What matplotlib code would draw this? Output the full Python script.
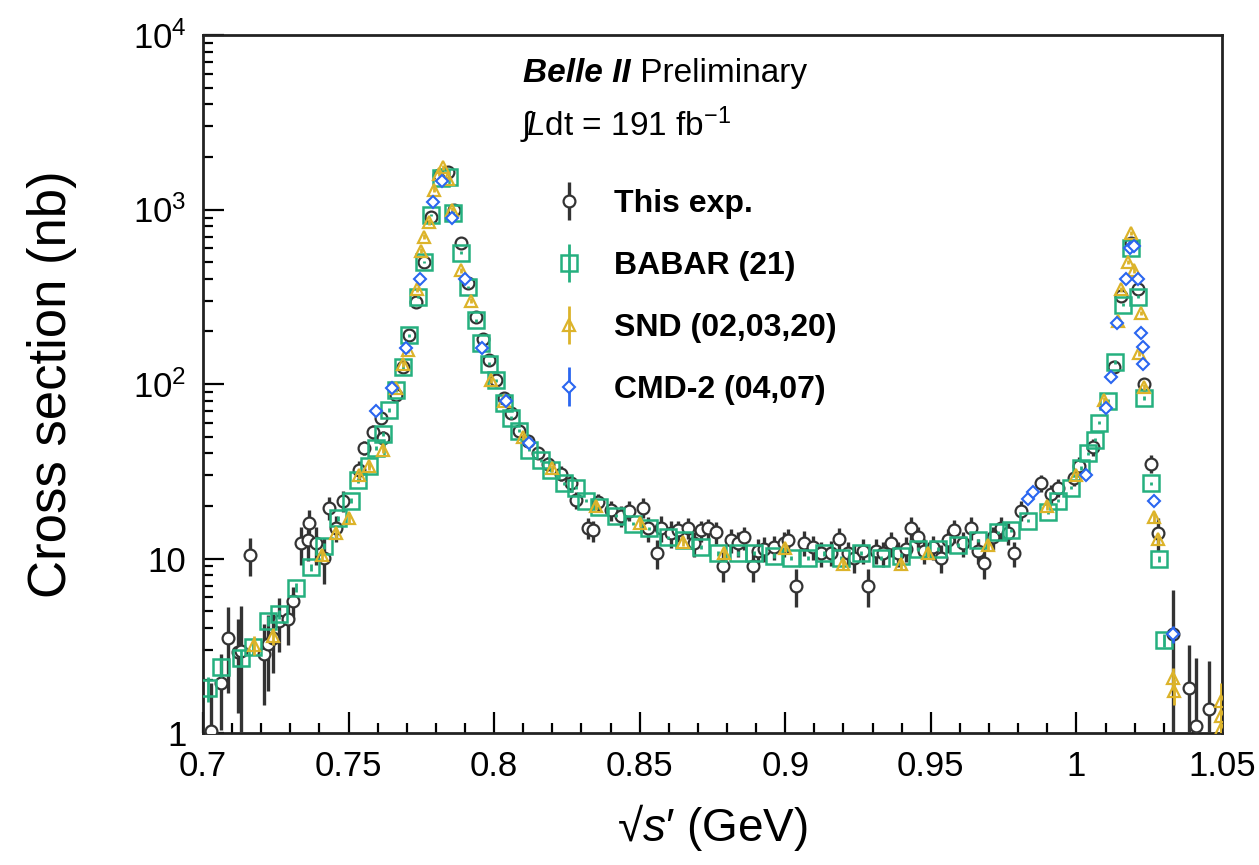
import matplotlib
matplotlib.use("Agg")
import matplotlib.pyplot as plt
from matplotlib.ticker import MultipleLocator, FixedLocator, FuncFormatter, LogLocator, NullFormatter
from matplotlib.legend_handler import HandlerErrorbar
from matplotlib.container import ErrorbarContainer

plt.rcParams["font.family"] = ["Liberation Sans", "DejaVu Sans"]
plt.rcParams["mathtext.fontset"] = "custom"
plt.rcParams["mathtext.rm"] = "Liberation Sans"
plt.rcParams["mathtext.it"] = "Liberation Sans:italic"
plt.rcParams["mathtext.bf"] = "Liberation Sans:bold"

BLACK = "#333333"
GREEN = "#25b07f"
YELLOW = "#dcb32a"
BLUE = "#2a66f0"

# This experiment
this_x = [0.7027, 0.7062, 0.7086, 0.7120, 0.7131, 0.7161, 0.7210, 0.7223, 0.7240, 0.7261,
          0.7292, 0.7309, 0.7337, 0.7361, 0.7365, 0.7388, 0.7416, 0.7433, 0.7457, 0.7481,
          0.7536, 0.7553, 0.7584, 0.7611, 0.7620, 0.7663, 0.7687, 0.7708, 0.7732, 0.7759,
          0.7783, 0.7810, 0.7841, 0.7862, 0.7886, 0.7910, 0.7938, 0.7962, 0.7982, 0.8006,
          0.8034, 0.8058, 0.8085, 0.8116, 0.8150, 0.8185, 0.8230, 0.8264, 0.8280, 0.8322,
          0.8340, 0.8357, 0.8401, 0.8436, 0.8463, 0.8510, 0.8530, 0.8560, 0.8573, 0.8607,
          0.8631, 0.8666, 0.8687, 0.8711, 0.8735, 0.8762, 0.8786, 0.8814, 0.8838, 0.8859,
          0.8890, 0.8907, 0.8927, 0.8961, 0.8996, 0.9009, 0.9037, 0.9065, 0.9096, 0.9123,
          0.9157, 0.9185, 0.9216, 0.9236, 0.9267, 0.9284, 0.9312, 0.9336, 0.9363, 0.9387,
          0.9415, 0.9432, 0.9456, 0.9477, 0.9507, 0.9535, 0.9559, 0.9580, 0.9610, 0.9638,
          0.9662, 0.9683, 0.9713, 0.9741, 0.9765, 0.9786, 0.9810, 0.9878, 0.9913, 0.9937,
          0.9992, 1.0009, 1.0057, 1.0129, 1.0153, 1.0187, 1.0211, 1.0232, 1.0256, 1.0280,
          1.0332, 1.0387, 1.0411, 1.0455]
this_y = [1.03, 1.94, 3.5, 2.9, 2.96, 10.5, 2.84, 3.25, 3.5, 4.4,
          4.5, 5.7, 12.2, 12.7, 16, 12.2, 10.1, 19.6, 15, 21.5,
          32, 43, 53, 64, 49, 86, 125, 190, 295, 500,
          910, 1580, 1630, 1000, 645, 380, 243, 180, 137, 105,
          83, 68, 54, 47, 40, 35, 30.7, 27, 21.6, 15,
          14.5, 21, 19, 17.6, 18.8, 19.6, 14.9, 10.7, 15, 14,
          14.5, 15, 12.2, 14.5, 14.9, 14.1, 9.1, 12.7, 12.2, 13.2,
          9.1, 11.1, 11.4, 11.6, 12.2, 12.7, 7.0, 12.3, 11.6, 10.7,
          10.8, 13, 10.7, 10.1, 11.1, 7.0, 11.1, 10.7, 12.2, 10.7,
          11.4, 15, 13.2, 11.1, 11.6, 10.1, 12.7, 14.5, 12.2, 15,
          11.1, 9.4, 13.2, 15, 14, 10.7, 18.8, 27, 23.5, 25.5,
          29, 34, 43.5, 125, 320, 640, 350, 100, 35, 14,
          3.7, 1.8, 1.1, 1.37]
this_err = [0.9, 0.9, 1.8, 1.6, 2.4, 2.6, 1.4, 1.5, 1.3, 1.5,
            1.3, 1.2, 3.0, 3.0, 3.0, 3.0, 3.0, 3.0, 2.5, 3.0,
            4, 4, 5, 5, 5, 6, 8, 10, 15, 20,
            30, 50, 50, 40, 25, 15, 10, 8, 6, 5,
            4, 4, 3, 3, 3, 3, 3, 3, 2.5, 2.0,
            2.0, 2.5, 2.5, 2.5, 2.5, 2.5, 2.5, 2.0, 2.5, 2.5,
            2.0, 2.0, 2.0, 2.0, 2.0, 2.0, 1.8, 2.0, 2.0, 2.0,
            1.8, 1.8, 1.8, 1.8, 2.0, 2.0, 1.7, 2.0, 1.8, 1.8,
            1.8, 2.0, 1.8, 1.8, 1.8, 1.7, 1.8, 1.8, 2.0, 1.8,
            1.8, 2.2, 2.0, 1.8, 1.8, 1.8, 2.0, 2.2, 2.0, 2.2,
            1.8, 1.8, 2.0, 2.2, 2.0, 1.8, 2.5, 3, 3, 3,
            3, 4, 5, 10, 20, 40, 25, 8, 4, 3,
            2.9, 1.4, 1.6, 1.2]

# BABAR (21)
babar_x = [0.7017, 0.7062, 0.7131, 0.7172, 0.7223, 0.7261, 0.7319, 0.7371, 0.7416, 0.7464,
           0.7508, 0.7532, 0.7570, 0.7594, 0.7618, 0.7639, 0.7663, 0.7687, 0.7708, 0.7738,
           0.7759, 0.7783, 0.7817, 0.7845, 0.7859, 0.7886, 0.7910, 0.7938, 0.7955, 0.7982,
           0.8006, 0.8034, 0.8058, 0.8085, 0.8120, 0.8161, 0.8195, 0.8240, 0.8280, 0.8316,
           0.8360, 0.8419, 0.8477, 0.8532, 0.8597, 0.8652, 0.8711, 0.8769, 0.8838, 0.8893,
           0.8961, 0.9020, 0.9078, 0.9133, 0.9191, 0.9260, 0.9329, 0.9397, 0.9456, 0.9525,
           0.9593, 0.9662, 0.9731, 0.9775, 0.9834, 0.9902, 0.9937, 0.9981, 1.0016, 1.0040,
           1.0064, 1.0078, 1.0109, 1.0133, 1.0160, 1.0187, 1.0211, 1.0232, 1.0256, 1.0284,
           1.0301]
babar_y = [1.8, 2.4, 2.7, 3.1, 4.4, 4.8, 6.8, 8.9, 11.8, 17,
           21.5, 28, 34, 43, 52, 71, 92, 125, 190, 316,
           500, 930, 1520, 1540, 960, 565, 360, 232, 171, 131,
           105, 78, 64, 54, 42, 36.6, 32, 27, 25.5, 21.5,
           19.7, 17.6, 15.8, 14.9, 13.2, 12.7, 11.6, 10.7, 10.7, 10.8,
           10.4, 10.1, 10.1, 10.7, 10.1, 10.8, 10.1, 10.4, 11.4, 11.4,
           11.9, 12.7, 14.1, 14.5, 16.5, 18.4, 21.5, 25.5, 33, 40,
           48, 60, 80, 134, 285, 600, 316, 83, 27, 10,
           3.4]
babar_err = [0.3, 0.3, 0.3, 0.3, 0.3, 0.3, 0.4, 0.4, 0.5, 0.6,
             0.7, 0.8, 1.0, 1.2, 1.4, 2, 2, 3, 4, 6,
             9, 15, 25, 25, 15, 10, 6, 4, 3, 2.5,
             2, 1.5, 1.2, 1.0, 0.8, 0.7, 0.6, 0.5, 0.5, 0.4,
             0.4, 0.4, 0.3, 0.3, 0.3, 0.3, 0.3, 0.3, 0.3, 0.3,
             0.3, 0.3, 0.3, 0.3, 0.3, 0.3, 0.3, 0.3, 0.3, 0.3,
             0.3, 0.3, 0.3, 0.3, 0.4, 0.4, 0.5, 0.6, 0.7, 0.8,
             1.0, 1.2, 1.6, 3, 6, 12, 6, 2, 0.6, 0.4,
             0.3]

# SND (02,03,20)
snd_x = [0.7175, 0.7240, 0.7410, 0.7457, 0.7500, 0.7536, 0.7570, 0.7620, 0.7663, 0.7687,
         0.7704, 0.7735, 0.7750, 0.7760, 0.7775, 0.7795, 0.7810, 0.7825, 0.7840, 0.7855,
         0.7886, 0.7920, 0.7989, 0.8034, 0.8100, 0.8200, 0.8350, 0.8500, 0.8650, 0.8790,
         0.9000, 0.9198, 0.9397, 0.9490, 0.9696, 0.9900, 1.0000, 1.0095, 1.0143, 1.0153,
         1.0177, 1.0187, 1.0198, 1.0215, 1.0222, 1.0232, 1.0267, 1.0280, 1.0332, 1.0335,
         1.0497, 1.0497, 1.0497]
snd_y = [3.2, 3.6, 10.5, 14, 17, 30, 34, 42, 95, 130,
         157, 350, 580, 700, 850, 1300, 1600, 1750, 1500, 1000,
         450, 300, 105, 80, 50, 33, 20, 16, 12.5, 10.7,
         11.5, 9.3, 9.3, 10.8, 11.9, 20, 30, 81, 230, 350,
         500, 735, 450, 150, 255, 96, 17.2, 13, 2.07, 1.74,
         1.53, 1.25, 1.05]
snd_err = [0.4, 0.4, 0.8, 1.0, 1.2, 1.5, 1.7, 2, 4, 5,
           6, 12, 20, 25, 30, 45, 50, 55, 50, 35,
           15, 10, 4, 3, 2, 1.5, 1.0, 0.8, 0.7, 0.6,
           0.6, 0.6, 0.6, 0.6, 0.7, 1.0, 1.5, 3, 8, 12,
           15, 20, 15, 6, 8, 4, 1.0, 0.9, 0.3, 0.3,
           0.4, 0.3, 0.3]

# CMD-2 (04,07)
cmd_x = [0.7594, 0.7650, 0.7697, 0.7745, 0.7790, 0.7820, 0.7855, 0.7900, 0.7960, 0.8040,
         0.8120, 0.9834, 0.9850, 1.0033, 1.0102, 1.0118, 1.0140, 1.0170, 1.0185, 1.0198,
         1.0210, 1.0222, 1.0228, 1.0230, 1.0267, 1.0332]
cmd_y = [70, 95, 160, 400, 1100, 1450, 900, 400, 160, 80,
         46, 22, 24, 30, 73, 110, 224, 400, 600, 620,
         400, 195, 163, 131, 21.5, 3.7]
cmd_err = [3, 4, 6, 12, 30, 40, 25, 12, 5, 3,
           2, 1.5, 1.5, 2, 3, 4, 8, 12, 15, 15,
           12, 6, 5, 4, 1.2, 0.4]

fig = plt.figure(figsize=(12.59, 8.65), dpi=100)
ax = fig.add_axes([0.1612, 0.1526, 0.8094, 0.8069])

h_this = ax.errorbar(this_x, this_y, yerr=this_err, fmt="o", ms=8.5, mfc="white",
                     mec=BLACK, mew=1.6, ecolor=BLACK, elinewidth=2.4, capsize=0, zorder=3)
h_babar = ax.errorbar(babar_x, babar_y, yerr=babar_err, fmt="s", ms=11, mfc="none",
                      mec=GREEN, mew=1.8, ecolor=GREEN, elinewidth=2.0, capsize=0, zorder=4)
h_snd = ax.errorbar(snd_x, snd_y, yerr=snd_err, fmt="^", ms=8.5, mfc="none",
                    mec=YELLOW, mew=1.6, ecolor=YELLOW, elinewidth=2.0, capsize=0, zorder=5)
h_cmd = ax.errorbar(cmd_x, cmd_y, yerr=cmd_err, fmt="D", ms=6, mfc="white",
                    mec=BLUE, mew=1.5, ecolor=BLUE, elinewidth=2.0, capsize=0, zorder=6)

ax.set_yscale("log")
ax.set_xlim(0.7, 1.05)
ax.set_ylim(1, 1e4)

ax.xaxis.set_major_locator(MultipleLocator(0.05))
ax.xaxis.set_minor_locator(MultipleLocator(0.01))
ax.xaxis.set_major_formatter(FuncFormatter(lambda v, p: f"{v:g}"))

ytick_vals = [1, 10, 100, 1000, 10000]
ytick_labels = ["1", "10", "10$^{2}$", "10$^{3}$", "10$^{4}$"]
ax.yaxis.set_major_locator(FixedLocator(ytick_vals))
ax.set_yticklabels(ytick_labels)
ax.yaxis.set_minor_locator(LogLocator(base=10, subs=range(2, 10)))
ax.yaxis.set_minor_formatter(NullFormatter())

ax.tick_params(which="both", direction="in", top=False, right=False,
               labelsize=25, width=1.6, pad=12, colors="black")
ax.tick_params(which="major", length=15)
ax.tick_params(which="minor", length=7.5)
for s in ax.spines.values():
    s.set_linewidth(2.0)
    s.set_color("#222222")

ax.set_ylabel("Cross section (nb)", fontsize=38, labelpad=40)
ax.set_xlabel(r"√$s$′ (GeV)", fontsize=33, labelpad=14)

# header text
t1 = fig.text(0.4154, 0.9145, "Belle II", fontsize=24, fontweight="bold",
              fontstyle="italic", va="center", ha="left")
ax.annotate(" Preliminary", xy=(1, 0), xycoords=t1, fontsize=24, va="bottom", ha="left")
fig.text(0.413, 0.8555, r"$\int\!L$dt = 191 fb$^{-1}$", fontsize=24, va="center", ha="left")

leg = ax.legend([h_this, h_babar, h_snd, h_cmd],
                ["This exp.", "BABAR (21)", "SND (02,03,20)", "CMD-2 (04,07)"],
                loc="upper left", bbox_to_anchor=(0.4265, 0.800), bbox_transform=fig.transFigure,
                frameon=False, prop={"weight": "bold", "size": 23},
                handler_map={ErrorbarContainer: HandlerErrorbar(xerr_size=0.6)},
                handlelength=1.0, handletextpad=0.9, labelspacing=1.0, borderpad=0)

fig.savefig("out.png", dpi=100)
